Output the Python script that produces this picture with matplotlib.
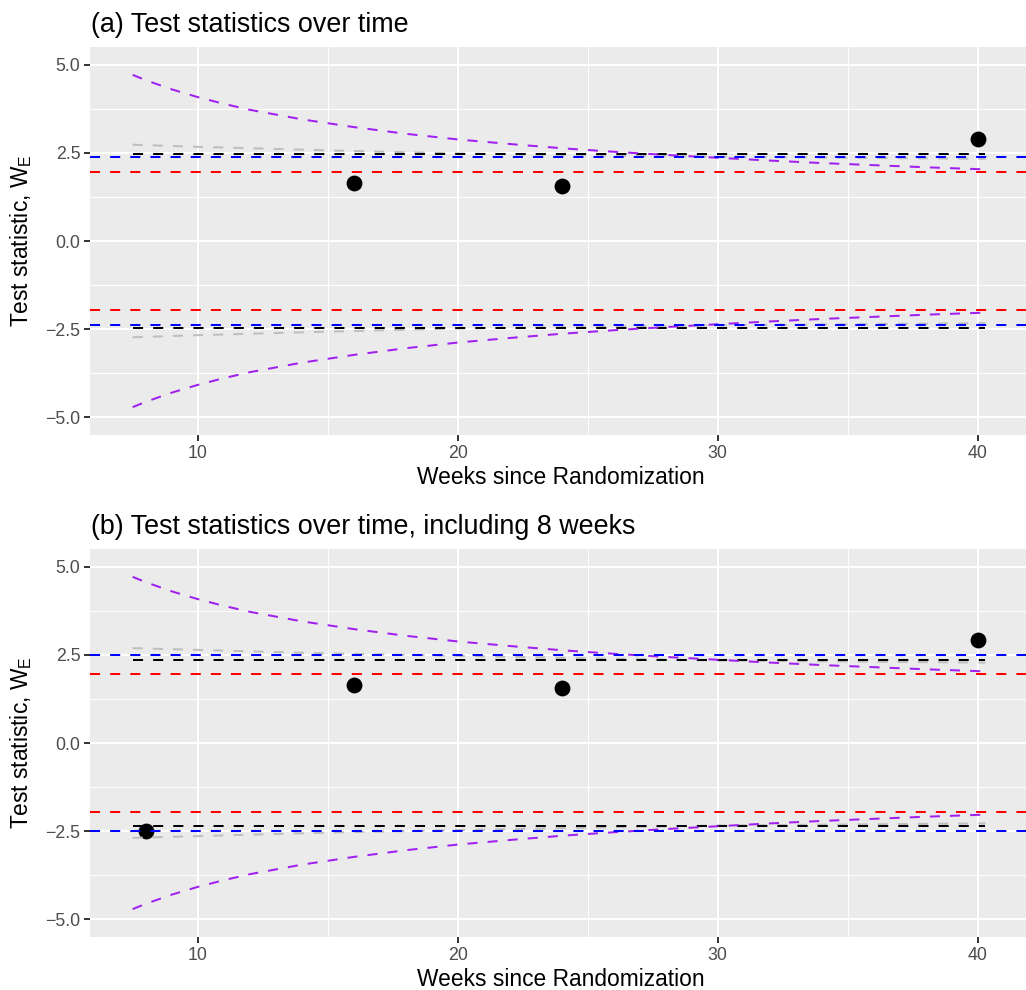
#Topic: test statistics over time with group sequential boundaries
#-----------------------------
#libraries

import matplotlib
matplotlib.use('Agg')
import matplotlib.pyplot as plt

plt.rcParams['font.family'] = ['Liberation Sans', 'DejaVu Sans']
plt.rcParams['mathtext.fontset'] = 'custom'
plt.rcParams['mathtext.rm'] = 'Liberation Sans'

# observed test statistics (weeks, W_E)
weeks_a = [16, 24, 40]
stat_a = [1.64, 1.57, 2.90]
weeks_b = [8, 16, 24, 40]
stat_b = [-2.50, 1.64, 1.57, 2.91]

# boundary curves
bound_weeks = [7.5, 8, 9, 10, 11, 12, 14, 16, 18, 20, 22, 24, 26, 28, 30, 32, 34, 36, 38, 40.3]
purple_bound = [4.71, 4.56, 4.30, 4.08, 3.89, 3.72, 3.45, 3.23, 3.04, 2.88,
                2.75, 2.63, 2.53, 2.44, 2.36, 2.28, 2.21, 2.15, 2.09, 2.03]

gray_weeks = [7.5, 10, 15, 20, 25, 30, 35, 40.3]
gray_bound_a = [2.73, 2.67, 2.57, 2.48, 2.43, 2.39, 2.36, 2.33]
gray_bound_b = [2.69, 2.64, 2.54, 2.47, 2.40, 2.34, 2.31, 2.28]

# flat boundaries
black_a = 2.47
black_b = 2.36
blue_a = 2.39
blue_b = 2.49
red_z = 1.96
line_span = [7.5, 40.3]

titles = ['(a) Test statistics over time',
          '(b) Test statistics over time, including 8 weeks']

fig = plt.figure(figsize=(10.26, 9.9), dpi=100)

def draw_panel(ax, weeks, stat, gray_bound, black, blue):
    ax.set_facecolor('#EBEBEB')
    for s in ax.spines.values():
        s.set_visible(False)
    # grid lines like ggplot
    for y in [-3.75, -1.25, 1.25, 3.75]:
        ax.axhline(y, color='white', lw=0.75, zorder=0)
    for x in [15, 25, 35]:
        ax.axvline(x, color='white', lw=0.75, zorder=0)
    for y in [-5, -2.5, 0, 2.5, 5]:
        ax.axhline(y, color='white', lw=1.5, zorder=0)
    for x in [10, 20, 30, 40]:
        ax.axvline(x, color='white', lw=1.5, zorder=0)

    ax.scatter(weeks, stat, s=130, color='black', zorder=2, linewidths=0)

    dash = (0, (5, 5))
    for sign in [1, -1]:
        ax.plot(gray_weeks, [sign * g for g in gray_bound], color='#BEBEBE', lw=1.45, ls=dash, zorder=3)
        ax.plot(line_span, [sign * black] * 2, color='black', lw=1.45, ls=dash, zorder=3)
        ax.plot(bound_weeks, [sign * p for p in purple_bound], color='#A020F0', lw=1.45, ls=dash, zorder=4)
        ax.axhline(sign * red_z, color='#FF0000', lw=1.45, ls=dash, zorder=4)
        ax.axhline(sign * blue, color='#0000FF', lw=1.45, ls=dash, zorder=4)

    ax.set_xlim(5.86, 41.86)
    ax.set_ylim(-5.5, 5.5)
    ax.set_xticks([10, 20, 30, 40])
    ax.set_yticks([-5, -2.5, 0, 2.5, 5])
    ax.set_yticklabels(['\u22125.0', '\u22122.5', '0.0', '2.5', '5.0'])
    ax.tick_params(colors='#333333', labelcolor='#4D4D4D', labelsize=12.8,
                   length=4, width=1.4, pad=3)

ax1 = fig.add_axes([90 / 1026, 1 - 435 / 990, 936 / 1026, 388 / 990])
draw_panel(ax1, weeks_a, stat_a, gray_bound_a, black_a, blue_a)
ax2 = fig.add_axes([90 / 1026, 1 - 937 / 990, 936 / 1026, 388 / 990])
draw_panel(ax2, weeks_b, stat_b, gray_bound_b, black_b, blue_b)

# titles and axis labels
for off, t in zip([0, 502], titles):
    fig.text(91 / 1026, 1 - (31.7 + off) / 990, t, fontsize=19.4, va='baseline', ha='left')
    fig.text(561 / 1026, 1 - (478 + off) / 990, 'Weeks since Randomization',
             fontsize=16.4, va='center', ha='center')
    fig.text(21 / 1026, 1 - (241 + off) / 990, r'Test statistic, $\mathrm{W_E}$',
             fontsize=16.4, va='center', ha='center', rotation=90)

plt.savefig('out.png', dpi=100)
